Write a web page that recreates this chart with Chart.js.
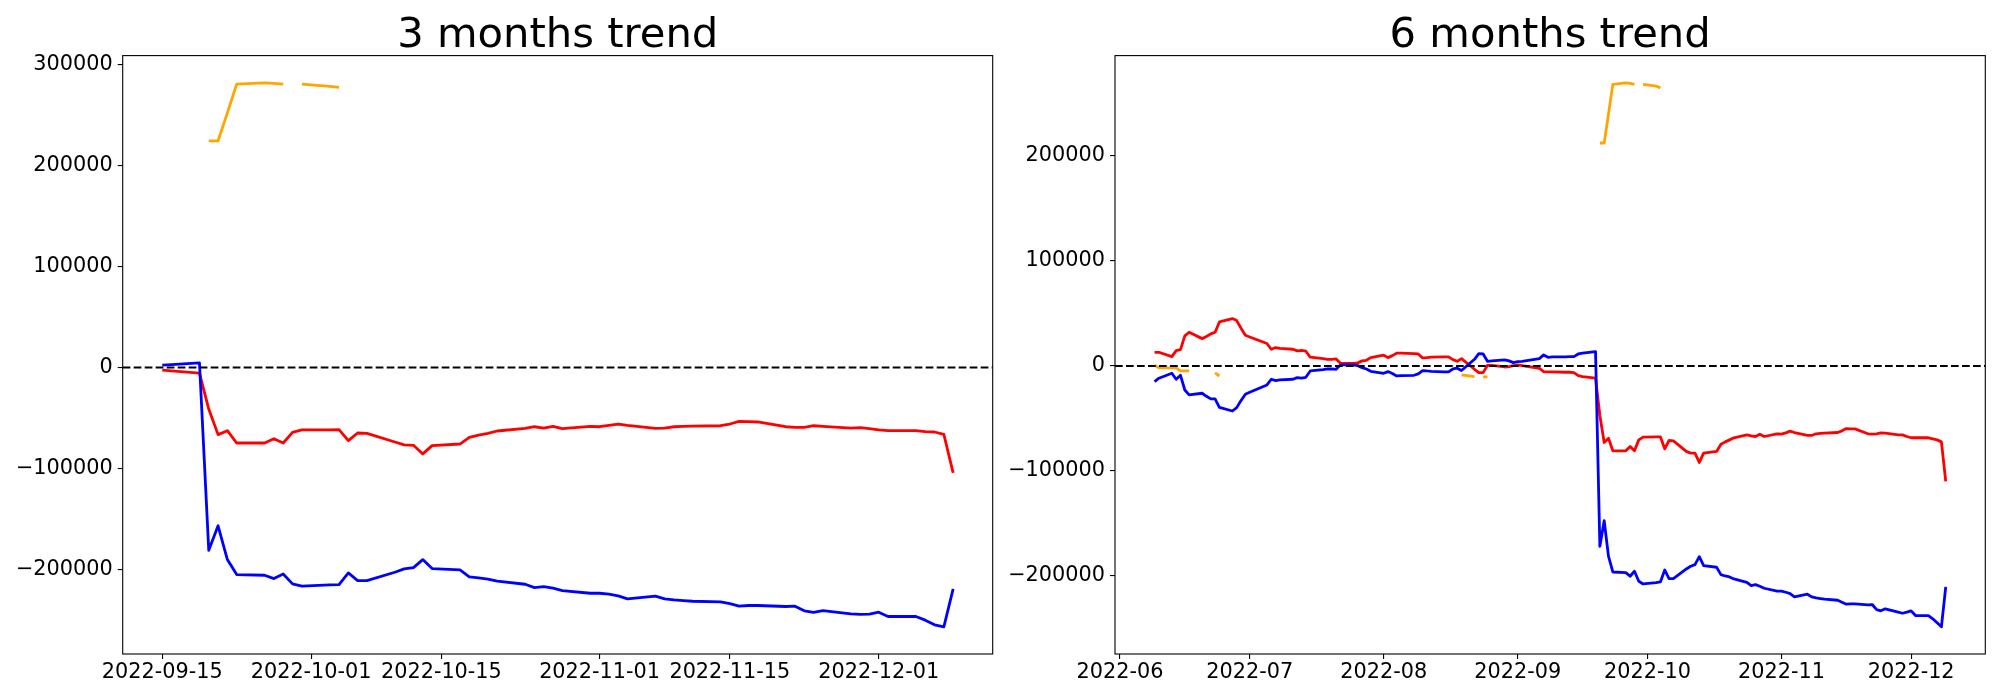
<!DOCTYPE html>
<html>
<head>
<meta charset="utf-8">
<title>Trend</title>
<script src="https://cdn.jsdelivr.net/npm/chart.js@4.4.1/dist/chart.umd.min.js"></script>
<style>
  html, body { margin: 0; padding: 0; background: #fff; }
  #wrap { position: relative; width: 2000px; height: 700px; }
  canvas { position: absolute; top: 0; }
  #chart3m { left: 0; }
  #chart6m { left: 1000px; }
</style>
</head>
<body>
<div id="wrap">
  <canvas id="chart3m" width="1000" height="700"></canvas>
  <canvas id="chart6m" width="1000" height="700"></canvas>
</div>
<script>
// ====== DATA ======
const N = null;
const titles = ['3 months trend', '6 months trend'];

// --- 3 months ---
const dates3m = [
  '2022-09-15','2022-09-16','2022-09-19','2022-09-20','2022-09-21','2022-09-22','2022-09-23',
  '2022-09-26','2022-09-27','2022-09-28','2022-09-29','2022-09-30',
  '2022-10-03','2022-10-04','2022-10-05','2022-10-06','2022-10-07',
  '2022-10-10','2022-10-11','2022-10-12','2022-10-13','2022-10-14',
  '2022-10-17','2022-10-18','2022-10-19','2022-10-20','2022-10-21',
  '2022-10-24','2022-10-25','2022-10-26','2022-10-27','2022-10-28',
  '2022-10-31','2022-11-01','2022-11-02','2022-11-03','2022-11-04',
  '2022-11-07','2022-11-08','2022-11-09','2022-11-10','2022-11-11',
  '2022-11-14','2022-11-15','2022-11-16','2022-11-17','2022-11-18',
  '2022-11-21','2022-11-22','2022-11-23','2022-11-24','2022-11-25',
  '2022-11-28','2022-11-29','2022-11-30','2022-12-01','2022-12-02',
  '2022-12-05','2022-12-06','2022-12-07','2022-12-08','2022-12-09'
];
const red3m = [
  -2600, -3400, -5600, -41100, -66400, -62500, -74700,
  -74700, -70400, -74700, -64100, -61800,
  -61800, -61500, -72400, -64800, -65100,
  -73700, -76600, -77000, -85500, -77300,
  -75700, -69100, -66800, -65100, -62800,
  -60200, -58600, -59900, -58200, -60500,
  -58200, -58600, -57200, -55900, -57200,
  -60200, -59900, -58600, -58200, -57900,
  -57600, -55900, -53300, -53600, -53900,
  -58600, -59200, -59200, -57600, -58200,
  -59900, -59500, -60500, -61800, -62500,
  -62500, -63500, -63800, -66100, -104300
];
const blue3m = [
  2300, 2900, 4600, -180900, -156600, -190100, -204900,
  -205600, -208900, -204300, -214100, -216400,
  -215200, -214800, -203300, -210900, -210900,
  -202600, -199300, -198000, -190100, -199000,
  -200300, -207200, -208200, -209500, -211500,
  -214500, -217800, -216800, -218400, -220700,
  -223400, -223400, -224300, -226000, -228900,
  -226300, -228900, -229900, -230600, -231300,
  -231900, -233600, -236200, -235500, -235500,
  -236500, -236200, -240800, -242400, -240500,
  -243800, -244400, -244100, -242100, -246400,
  -246400, -250000, -254600, -256600, -219100
];
const orange3m = [
  N, N, N, 224400, 224400, 252000, 280500,
  281800, 281200, 280500, N, 280500,
  278300, 277200, N, N, N,
  N, N, N, N, N,  N, N, N, N, N,  N, N, N, N, N,
  N, N, N, N, N,  N, N, N, N, N,  N, N, N, N, N,
  N, N, N, N, N,  N, N, N, N, N,  N, N, N, N, N
];
const xTicks3m = ['2022-09-15', '2022-10-01', '2022-10-15', '2022-11-01', '2022-11-15', '2022-12-01'];
const yTicks3m = [-200000, -100000, 0, 100000, 200000, 300000];

// --- 6 months ---
const dates6m = [
  '2022-06-09','2022-06-10','2022-06-13','2022-06-14','2022-06-15','2022-06-16','2022-06-17',
  '2022-06-20','2022-06-21','2022-06-22','2022-06-23','2022-06-24','2022-06-27','2022-06-28','2022-06-29','2022-06-30',
  '2022-07-01','2022-07-05','2022-07-06','2022-07-07','2022-07-08','2022-07-11','2022-07-12','2022-07-13','2022-07-14','2022-07-15',
  '2022-07-18','2022-07-19','2022-07-20','2022-07-21','2022-07-22','2022-07-25','2022-07-26','2022-07-27','2022-07-28','2022-07-29',
  '2022-08-01','2022-08-02','2022-08-03','2022-08-04','2022-08-05','2022-08-08','2022-08-09','2022-08-10','2022-08-11','2022-08-12',
  '2022-08-15','2022-08-16','2022-08-17','2022-08-18','2022-08-19','2022-08-22','2022-08-23','2022-08-24','2022-08-25','2022-08-26',
  '2022-08-29','2022-08-30','2022-08-31',
  '2022-09-01','2022-09-02','2022-09-06','2022-09-07','2022-09-08','2022-09-09','2022-09-12','2022-09-13','2022-09-14','2022-09-15',
  '2022-09-16','2022-09-19','2022-09-20','2022-09-21','2022-09-22','2022-09-23','2022-09-26','2022-09-27','2022-09-28','2022-09-29','2022-09-30',
  '2022-10-03','2022-10-04','2022-10-05','2022-10-06','2022-10-07','2022-10-10','2022-10-11','2022-10-12','2022-10-13','2022-10-14',
  '2022-10-17','2022-10-18','2022-10-19','2022-10-20','2022-10-21','2022-10-24','2022-10-25','2022-10-26','2022-10-27','2022-10-28','2022-10-31',
  '2022-11-01','2022-11-02','2022-11-03','2022-11-04','2022-11-07','2022-11-08','2022-11-09','2022-11-10','2022-11-11','2022-11-14','2022-11-15',
  '2022-11-16','2022-11-17','2022-11-18','2022-11-21','2022-11-22','2022-11-23','2022-11-24','2022-11-25','2022-11-28','2022-11-29','2022-11-30',
  '2022-12-01','2022-12-02','2022-12-05','2022-12-06','2022-12-07','2022-12-08','2022-12-09'
];
const red6m = [
  13000, 13000, 8900, 14600, 15600, 28600, 32100, 26000, 28000, 30500, 32100, 41900, 45100, 43200, 35900, 29200,
  27600, 21300, 15900, 17500, 16800, 15900, 14300, 14900, 14000, 8300, 7000, 6300, 6300, 6700, 2500, 2500, 2900, 4800, 5400, 7900,
  10200, 7900, 9800, 12100, 12100, 11700, 11400, 7600, 7900, 8300, 8600, 8600, 6000, 4400, 7000, -3200, -6400, -6400, 600, 600, -1000, -600, 300,
  1000, 300, -2200, -5400, -5700, -5700, -6000, -6000, -6300, -9200, -10100, -11700, -47200, -72900, -68800, -80800, -80800, -76700, -80800, -70400, -67800,
  -67500, -67500, -78900, -71000, -71300, -81400, -83000, -83000, -91900, -83000, -81400, -74500, -72300, -70400, -68400, -65600, -66500, -67200, -65000, -67200, -64600,
  -65000, -63700, -62100, -63400, -66200, -66200, -64600, -64300, -64000, -63400, -61800, -59600, -59900, -59900, -64600, -65000, -64600, -63700, -64000, -65600, -65600, -67200,
  -68400, -68400, -68400, -69400, -70400, -72300, -110000
];
const blue6m = [
  -14900, -11700, -7000, -12700, -8900, -22900, -27600, -26000, -28900, -31400, -31400, -39400, -42900, -39700, -33000, -27000,
  -25100, -18100, -12700, -14000, -13300, -12700, -11100, -11700, -10800, -4800, -3500, -2900, -2900, -3200, 1000, 1000, 300, -1600, -2900, -5100,
  -7000, -5400, -7300, -9500, -9200, -8900, -7600, -4400, -4800, -5100, -5700, -5700, -2900, -2200, -4400, 6300, 11700, 11400, 4400, 4800, 5700, 4800, 3200,
  4100, 4400, 7000, 10500, 8200, 8600, 8600, 8900, 8900, 11400, 12100, 13600, -171800, -147400, -181300, -196200, -196800, -200300, -195500, -205000, -207600,
  -206300, -205700, -194300, -202500, -202500, -193300, -190800, -189200, -181600, -190100, -191700, -198700, -200000, -200900, -202800, -206000, -209200, -208200, -209800, -211700, -214500,
  -214500, -215500, -216800, -219900, -217400, -219900, -220900, -221500, -222100, -223100, -225000, -226900, -226600, -226600, -227500, -227200, -232000, -233200, -231300, -234500, -235500, -234500,
  -233200, -237700, -237700, -240800, -244600, -248400, -210400
];
const orange6m = [
  600, -1900, -1900, -1900, -4800, -4800, -4800, N, N, N, -6700, -9600, N, N, N, N,
  N, N, N, N, N, N, N, N, N, N, N, N, N, N, N, N, N, N, N, N,
  N, N, N, N, N, N, N, N, N, N, N, N, N, N, -8600, -10200, N, -10500, -10500, N, N, N, N,
  N, N, N, N, N, N, N, N, N, N, N, N, 212300, 212300, 240000, 268100, 269600, 269000, 268100, N, 268100,
  266500, 264800, N, N, N, N, N, N, N, N, N, N, N, N, N, N, N, N, N, N, N,
  N, N, N, N, N, N, N, N, N, N, N, N, N, N, N, N, N, N, N, N, N, N,
  N, N, N, N, N, N, N
];
const xTicks6m = ['2022-06', '2022-07', '2022-08', '2022-09', '2022-10', '2022-11', '2022-12'];
const yTicks6m = [-200000, -100000, 0, 100000, 200000];

// ====== HELPERS ======
const FONT = 'DejaVu Sans';

function dayNum(s) {
  const p = (s.length === 7 ? s + '-01' : s).split('-').map(Number);
  return Date.UTC(p[0], p[1] - 1, p[2]) / 86400000;
}

function fmtNum(v) {
  return v < 0 ? '\u2212' + Math.abs(v) : String(v);
}

// axes frame (all four spines) + title centred over the plot area
const framePlugin = {
  id: 'frame',
  afterDraw(chart, args, opts) {
    const { ctx, chartArea: a } = chart;
    ctx.save();
    ctx.strokeStyle = '#000';
    ctx.lineWidth = 1.1;
    ctx.strokeRect(a.left, a.top, a.right - a.left, a.bottom - a.top);
    ctx.fillStyle = '#000';
    ctx.font = '41.7px "' + FONT + '"';
    ctx.textAlign = 'center';
    ctx.textBaseline = 'alphabetic';
    ctx.fillText(opts.text, (a.left + a.right) / 2, 46.7);
    ctx.restore();
  }
};

function makeChart(id, title, dates, red, blue, orange, xTicks, yTicks, axisWidth, padRight) {
  const xs = dates.map(dayNum);
  const span = xs[xs.length - 1] - xs[0];
  const xMin = xs[0] - 0.05 * span;
  const xMax = xs[xs.length - 1] + 0.05 * span;

  const all = red.concat(blue, orange).filter(v => v !== null);
  const lo = Math.min(...all), hi = Math.max(...all);
  const yMin = lo - 0.05 * (hi - lo);
  const yMax = hi + 0.05 * (hi - lo);

  const xTickVals = xTicks.map(dayNum);
  const pts = vals => vals.map((v, i) => ({ x: xs[i], y: v }));
  const line = (label, vals, color) => ({
    label, data: pts(vals),
    borderColor: color, backgroundColor: color,
    borderWidth: 2.8, pointRadius: 0, tension: 0, fill: false,
    borderJoinStyle: 'round'
  });

  const tickFont = { family: FONT, size: 20.8 };

  return new Chart(document.getElementById(id), {
    type: 'line',
    data: {
      datasets: [
        { label: 'zero', data: [{ x: xMin, y: 0 }, { x: xMax, y: 0 }],
          borderColor: '#000', borderWidth: 2.1, borderDash: [7.7, 3.3], pointRadius: 0, fill: false },
        line('orange', orange, '#ffa500'),
        line('blue', blue, '#0000ff'),
        line('red', red, '#ff0000')
      ]
    },
    options: {
      responsive: false,
      animation: false,
      devicePixelRatio: 1,
      layout: { padding: { top: 55.6, right: padRight, bottom: 0, left: 0 } },
      plugins: {
        legend: { display: false },
        tooltip: { enabled: false },
        frame: { text: title }
      },
      scales: {
        x: {
          type: 'linear', min: xMin, max: xMax,
          afterBuildTicks: axis => { axis.ticks = xTickVals.map(v => ({ value: v })); },
          afterFit: axis => { axis.height = 46; },
          border: { display: false },
          grid: { drawOnChartArea: false, drawTicks: true, tickLength: 5, color: '#000', lineWidth: 1.1 },
          ticks: {
            color: '#000', font: tickFont, padding: 1.3, autoSkip: false, maxRotation: 0, minRotation: 0,
            callback: v => { const i = xTickVals.indexOf(v); return i >= 0 ? xTicks[i] : ''; }
          }
        },
        y: {
          min: yMin, max: yMax,
          afterBuildTicks: axis => { axis.ticks = yTicks.map(v => ({ value: v })); },
          afterFit: axis => { axis.width = axisWidth; },
          border: { display: false },
          grid: { drawOnChartArea: false, drawTicks: true, tickLength: 5, color: '#000', lineWidth: 1.1 },
          ticks: { color: '#000', font: tickFont, padding: 5, autoSkip: false, callback: v => fmtNum(v) }
        }
      }
    },
    plugins: [framePlugin]
  });
}

// ====== CHARTS ======
makeChart('chart3m', titles[0], dates3m, red3m, blue3m, orange3m, xTicks3m, yTicks3m, 122.7, 7.3);
makeChart('chart6m', titles[1], dates6m, red6m, blue6m, orange6m, xTicks6m, yTicks6m, 115, 14.7);
</script>
</body>
</html>
